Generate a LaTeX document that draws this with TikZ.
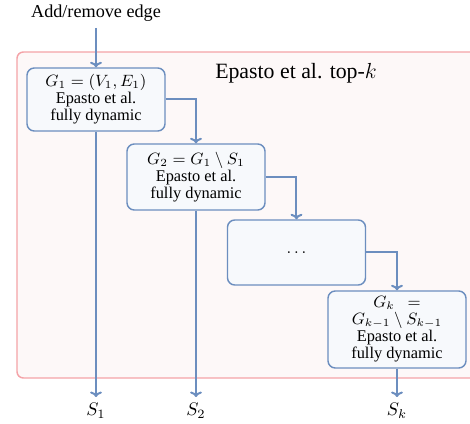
\documentclass[tikz,border=0pt]{standalone}
\usepackage{amsmath,amssymb}
\usepackage{fontspec}
\setmainfont{Liberation Serif}
\usepackage{tikz}
\usetikzlibrary{arrows.meta, positioning}
\usepackage{xcolor}

\definecolor{flowblue}{HTML}{6C8EBF}
\definecolor{boxfill}{HTML}{F7F9FC}
\definecolor{groupred}{HTML}{F4A3A8}
\definecolor{groupfill}{HTML}{FDF8F8}

\tikzset{
  algbox/.style={draw=flowblue, fill=boxfill, line width=0.8pt, rounded corners=4pt,
    minimum width=138*0.55pt, align=center, inner sep=1pt,
    font=\fontsize{9}{9.4}\selectfont},
  flow/.style={->, draw=flowblue, line width=1.1pt, >={To[length=3pt,width=6.5pt]}}
}

\begin{document}
\begin{tikzpicture}[x=0.55pt, y=-0.55pt]
        \useasboundingbox (0,0) rectangle (470,424);
        \clip (0,0) rectangle (470,424);
        % group frame
        \draw[groupred, fill=groupfill, line width=0.8pt, rounded corners=3.5pt] (17,52) rectangle (490,378);
        \node[font=\large] (title) at (296,73) {Epasto et al. top-$k$};
        % input
        \node (in) at (96,13) {Add/remove edge};
        \coordinate (inend) at (96,28);
        % chain of instances
        \node[algbox, minimum height=63*0.55pt] (b1) at (96,99.5) {$G_1 = (V_1, E_1)$\\Epasto et al.\\fully dynamic};
        \node[algbox, minimum height=66*0.55pt] (b2) at (196,177) {$G_2 = G_1 \setminus S_1$\\Epasto et al.\\fully dynamic};
        \node[algbox, minimum height=65*0.55pt] (b3) at (296.5,252.5) {$\ldots$};
        \node[algbox, minimum height=77*0.55pt] (b4) at (397,329.5) {$G_k\ \ =$\\$G_{k-1} \setminus S_{k-1}$\\Epasto et al.\\fully dynamic};
        % outputs
        \node (s1) at (96,411) {$S_1$};
        \node (s2) at (196,411) {$S_2$};
        \node (sk) at (397,411) {$S_k$};
        \draw[flow] (inend) -- (b1.north);
        \draw[flow] (b1.east) -| (b2.north);
        \draw[flow] (b2.east) -| (b3.north);
        \draw[flow] (b3.east) -| (b4.north);
        \draw[flow] (b1.south) -- (s1.north);
        \draw[flow] (b2.south) -- (s2.north);
        \draw[flow] (b4.south) -- (sk.north);
    \end{tikzpicture}
\end{document}
